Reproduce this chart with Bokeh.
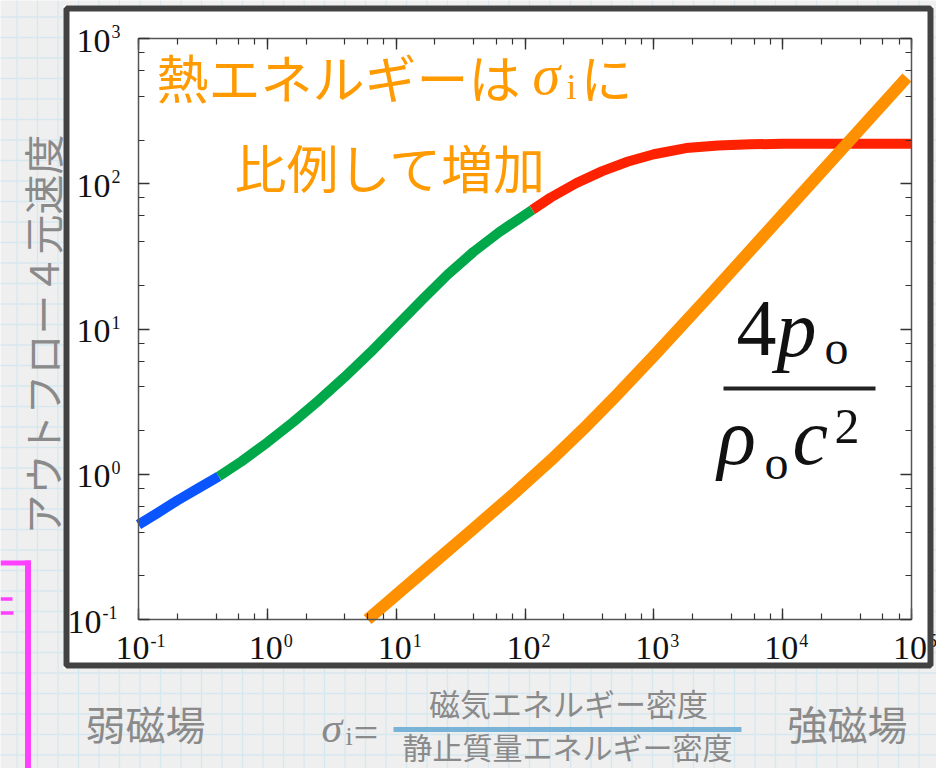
import numpy as np
from bokeh.plotting import figure
from bokeh.models import Range1d, LogScale, LogAxis, LogTicker, CustomJSTickFormatter
from bokeh.core.properties import value
from bokeh.embed import file_html
from bokeh.resources import INLINE

# Outflow four-velocity against magnetisation sigma_i, split by regime
sigma_weak = [0.1, 0.14, 0.2, 0.29, 0.42]
u_weak = [0.45, 0.54, 0.66, 0.8, 0.966]
sigma_mid = [0.42, 0.631, 1.0, 1.585, 2.512, 3.981, 6.31, 10, 15.85, 25.12, 39.81, 63.1, 114]
u_mid = [0.966, 1.227, 1.656, 2.286, 3.228, 4.667, 6.902, 10.45, 15.81, 23.71, 33.96, 46.45, 66.2]
sigma_strong = [114, 158.5, 251.2, 398, 631, 1000, 1778, 3162, 5623, 10000, 31623, 100000]
u_strong = [66.2, 80.4, 101.2, 122.2, 142.2, 159.6, 176.1, 183.5, 186.8, 188.3, 188.7, 188.7]

# Thermal energy 4p/(rho c^2)
sigma_heat = [6.0, 15.85, 39.8, 79.4, 158.5, 281.8, 501, 1000, 2512, 10000, 31623, 92000]
heat = [0.1, 0.2094, 0.4217, 0.7178, 1.247, 2.035, 3.417, 6.54, 15.83, 61.3, 189.5, 539.5]

x_tick_values = [1e-1, 1e0, 1e1, 1e2, 1e3, 1e4, 1e5]
x_tick_exps = ["-1", "0", "1", "2", "3", "4", "5"]
y_tick_values = [1e-1, 1e0, 1e1, 1e2, 1e3]
y_tick_exps = ["-1", "0", "1", "2", "3"]

W, H = 936, 768
# pixel box of the log-log panel inside the page
PX0, PX1 = 138, 911
PY_TOP, PY_BOT = 38, 619
XMIN, XMAX = x_tick_values[0], x_tick_values[-1]
YMIN, YMAX = y_tick_values[0], y_tick_values[-1]

lx_per_px = (np.log10(XMAX) - np.log10(XMIN)) / (PX1 - PX0)
lx_lo = np.log10(XMIN) - PX0 * lx_per_px
lx_hi = np.log10(XMAX) + (W - PX1) * lx_per_px
ly_per_px = (np.log10(YMAX) - np.log10(YMIN)) / (PY_BOT - PY_TOP)
ly_lo = np.log10(YMIN) - (H - PY_BOT) * ly_per_px
ly_hi = np.log10(YMAX) + PY_TOP * ly_per_px

p = figure(width=W, height=H, x_range=Range1d(0, W), y_range=Range1d(H, 0),
           output_backend="svg", toolbar_location=None,
           x_axis_type=None, y_axis_type=None, min_border=0,
           outline_line_color=None,
           background_fill_color="#efefef", border_fill_color="#efefef")
p.extra_x_ranges = {"lx": Range1d(10 ** lx_lo, 10 ** lx_hi)}
p.extra_x_scales = {"lx": LogScale()}
p.extra_y_ranges = {"ly": Range1d(10 ** ly_lo, 10 ** ly_hi)}
p.extra_y_scales = {"ly": LogScale()}

# graph-paper background
step = 20.5
gx = np.arange(16.5, W, step)
gy = np.arange(16.5, H, step)
p.segment(x0=gx, x1=gx, y0=0, y1=H, line_color="#d6e8ef", line_width=1.3)
p.segment(x0=0, x1=W, y0=gy, y1=gy, line_color="#d6e8ef", line_width=1.3)

# magenta bracket at the lower left
p.segment(x0=[27.5, 0, 0, 0], x1=[27.5, 30.5, 12, 13],
          y0=[560, 562.5, 598.5, 612.5], y1=[H, 562.5, 598.5, 612.5],
          line_color="#ff40ff", line_width=[6, 5, 3.5, 3.5])

# white panel
p.quad(left=63, right=933, top=5, bottom=668, fill_color="white", line_color=None)

# curves
lk = dict(x_range_name="lx", y_range_name="ly", line_cap="butt", line_join="round")
p.line(sigma_weak, u_weak, line_color="#0a55ff", line_width=10, **lk)
p.line(sigma_mid, u_mid, line_color="#00a84a", line_width=10, **lk)
p.line(sigma_strong, u_strong, line_color="#ff2200", line_width=10, **lk)
p.line(sigma_heat, heat, line_color="#ff9000", line_width=12, **lk)


def log_axis(fixed, bounds):
    return LogAxis(x_range_name="lx", y_range_name="ly",
                   fixed_location=fixed, bounds=bounds,
                   ticker=LogTicker(),
                   formatter=CustomJSTickFormatter(code="return ''"),
                   axis_line_color="#555555", axis_line_width=1.5,
                   major_tick_in=11, major_tick_out=0,
                   minor_tick_in=6, minor_tick_out=0,
                   major_tick_line_color="#333333", major_tick_line_width=1.4,
                   minor_tick_line_color="#333333", minor_tick_line_width=1.2)


p.add_layout(log_axis(YMIN, (XMIN, XMAX)), "below")
p.add_layout(log_axis(YMAX, (XMIN, XMAX)), "above")
p.add_layout(log_axis(XMIN, (YMIN, YMAX)), "left")
p.add_layout(log_axis(XMAX, (YMIN, YMAX)), "right")

serif = value("Liberation Serif")
tk = dict(x_range_name="lx", y_range_name="ly", text_font=serif, text_color="#111111",
          text_baseline="middle")

# bottom tick labels: "10" plus a raised exponent, centred on the tick
exp_w = [9 * len(e) for e in x_tick_exps]
base_right = [-(36 + w) / 2 + 3 + 35 for w in exp_w]
p.text(x=x_tick_values, y=[YMIN] * len(x_tick_values), text=["10"] * len(x_tick_values),
       x_offset=base_right, y_offset=28, text_align="right", text_font_size="34px", **tk)
p.text(x=x_tick_values, y=[YMIN] * len(x_tick_values), text=x_tick_exps,
       x_offset=[b + 1 for b in base_right], y_offset=21, text_align="left",
       text_font_size="18px", **tk)

# left tick labels
yexp_w = [9 * len(e) for e in y_tick_exps]
p.text(x=[XMIN] * len(y_tick_values), y=y_tick_values, text=["10"] * len(y_tick_values),
       x_offset=[-(19 + w) for w in yexp_w], y_offset=2, text_align="right",
       text_font_size="34px", **tk)
p.text(x=[XMIN] * len(y_tick_values), y=y_tick_values, text=y_tick_exps,
       x_offset=[-(18 + w) for w in yexp_w], y_offset=-7, text_align="left",
       text_font_size="18px", **tk)

# panel border drawn over the labels
p.quad(left=66, right=930, top=8, bottom=665, fill_color=None,
       line_color="#424242", line_width=6)

jp = value("Noto Sans CJK JP")
orange = "#ff9a00"
mid = dict(text_align="left", text_baseline="middle")
# annotation inside the panel
p.text(x=[156], y=[76], text=["熱エネルギーは"], text_font=jp, text_font_size="52px",
       text_color=orange, **mid)
p.text(x=[532], y=[74], text=["σ"], text_font=serif, text_font_style="italic",
       text_font_size="56px", text_color=orange, **mid)
p.text(x=[566], y=[86], text=["i"], text_font=serif, text_font_size="36px",
       text_color=orange, **mid)
p.text(x=[580], y=[76], text=["に"], text_font=jp, text_font_size="52px",
       text_color=orange, **mid)
p.text(x=[234], y=[166], text=["比例して増加"], text_font=jp, text_font_size="52px",
       text_color=orange, **mid)

# 4 p_o / (rho_o c^2)
ink = "#111111"
fm = dict(text_font=serif, text_color=ink, **mid)
p.text(x=[736], y=[328], text=["4"], text_font_size="80px", **fm)
p.text(x=[776], y=[328], text=["p"], text_font_size="80px", text_font_style="italic", **fm)
p.text(x=[824], y=[347], text=["o"], text_font_size="48px", **fm)
p.segment(x0=[723], x1=[875], y0=[388], y1=[388], line_color="#222222", line_width=4)
p.text(x=[717], y=[436], text=["ρ"], text_font_size="80px", text_font_style="italic", **fm)
p.text(x=[764], y=[462], text=["o"], text_font_size="48px", **fm)
p.text(x=[792], y=[436], text=["c"], text_font_size="80px", text_font_style="italic", **fm)
p.text(x=[834], y=[426], text=["2"], text_font_size="50px", **fm)

grey = "#8a8a8a"
# vertical axis title
p.text(x=[41], y=[334], text=["アウトフロー４元速度"], angle=np.pi / 2, text_font=jp,
       text_font_size="40px", text_color=grey, text_align="center", text_baseline="middle")

# caption below the panel
p.text(x=[145, 847], y=[722, 722], text=["弱磁場", "強磁場"], text_font=jp,
       text_font_size="40px", text_color=grey, text_align="center", text_baseline="middle")
p.text(x=[321], y=[727], text=["σ"], text_font=serif, text_font_style="italic",
       text_font_size="42px", text_color=grey, **mid)
p.text(x=[345], y=[736], text=["i"], text_font=serif, text_font_size="26px",
       text_color=grey, **mid)
p.text(x=[353], y=[732], text=["="], text_font=serif, text_font_size="44px",
       text_color=grey, **mid)
p.text(x=[568], y=[702], text=["磁気エネルギー密度"], text_font=jp, text_font_size="31px",
       text_color=grey, text_align="center", text_baseline="middle")
p.segment(x0=[393], x1=[741], y0=[729], y1=[729], line_color="#7ab3d8", line_width=5)
p.text(x=[567], y=[745], text=["静止質量エネルギー密度"], text_font=jp, text_font_size="30px",
       text_color=grey, text_align="center", text_baseline="middle")

open("out.html", "w").write(file_html(p, INLINE))
